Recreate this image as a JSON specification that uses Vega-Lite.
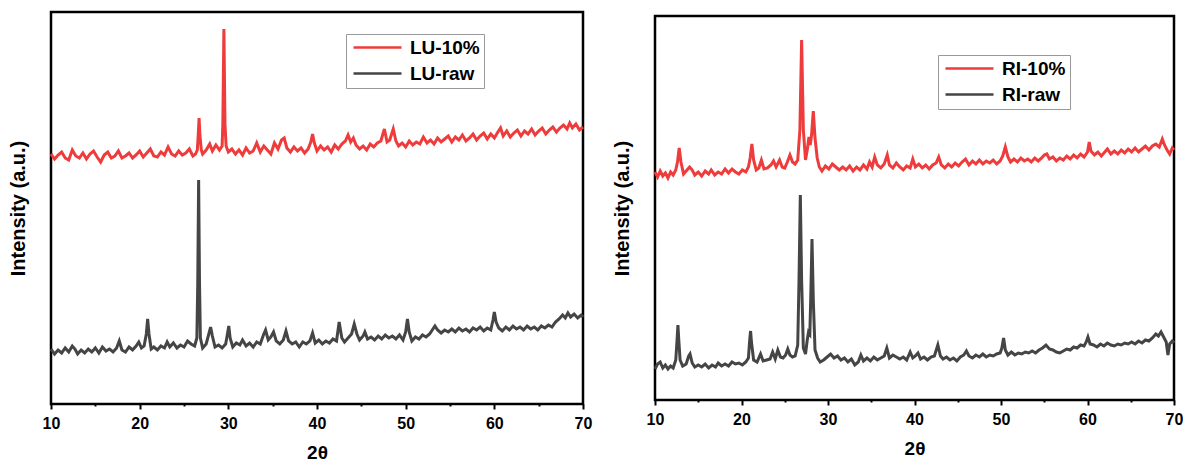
{
"$schema": "https://vega.github.io/schema/vega-lite/v6.json",
"padding": {"left": 6, "top": 10, "right": 0, "bottom": 0},
"background": "white",
"config": {
  "font": "Liberation Sans",
  "view": {"stroke": "black", "strokeWidth": 2.5},
  "axis": {"grid": false, "domain": false, "labelColor": "black", "titleColor": "black", "labelFont": "Liberation Sans", "titleFont": "Liberation Sans", "labelFontWeight": "bold", "titleFontWeight": "bold"},
  "legend": {"orient": "none", "title": null, "symbolType": "M-1,0H7", "symbolSize": 144, "symbolStrokeWidth": 2.5, "labelFontSize": 19, "labelFontWeight": "bold", "labelColor": "black", "labelFont": "Liberation Sans", "strokeColor": "#999999", "fillColor": "white", "padding": 4, "rowPadding": 6, "labelOffset": 41}
},
"datasets": {
"lu10": [{"x":10,"y":250},{"x":10.4,"y":245},{"x":10.8,"y":249},{"x":11.2,"y":252},{"x":11.6,"y":246},{"x":12,"y":244},{"x":12.4,"y":254},{"x":12.8,"y":248},{"x":13.2,"y":246},{"x":13.6,"y":251},{"x":14,"y":245},{"x":14.4,"y":250},{"x":14.8,"y":253},{"x":15.2,"y":247},{"x":15.6,"y":242},{"x":16,"y":249},{"x":16.4,"y":252},{"x":16.8,"y":246},{"x":17.2,"y":248},{"x":17.6,"y":253},{"x":18,"y":246},{"x":18.4,"y":248},{"x":18.8,"y":251},{"x":19.2,"y":246},{"x":19.6,"y":249},{"x":20,"y":253},{"x":20.4,"y":247},{"x":20.8,"y":251},{"x":21.2,"y":255},{"x":21.6,"y":248},{"x":22,"y":247},{"x":22.4,"y":252},{"x":22.8,"y":249},{"x":23.2,"y":257},{"x":23.6,"y":250},{"x":24,"y":248},{"x":24.4,"y":253},{"x":24.8,"y":249},{"x":25.2,"y":251},{"x":25.6,"y":255},{"x":26,"y":248},{"x":26.3,"y":250},{"x":26.5,"y":254},{"x":26.6,"y":268},{"x":26.7,"y":286},{"x":26.8,"y":268},{"x":26.95,"y":254},{"x":27.1,"y":250},{"x":27.5,"y":254},{"x":27.9,"y":260},{"x":28.2,"y":253},{"x":28.6,"y":259},{"x":29,"y":254},{"x":29.3,"y":258},{"x":29.38,"y":280},{"x":29.5,"y":375},{"x":29.62,"y":280},{"x":29.75,"y":258},{"x":30,"y":252},{"x":30.4,"y":255},{"x":30.8,"y":250},{"x":31.2,"y":254},{"x":31.6,"y":249},{"x":32,"y":256},{"x":32.4,"y":251},{"x":32.8,"y":253},{"x":33.2,"y":261},{"x":33.6,"y":252},{"x":34,"y":258},{"x":34.4,"y":254},{"x":34.8,"y":250},{"x":35.2,"y":261},{"x":35.6,"y":255},{"x":36,"y":264},{"x":36.3,"y":266},{"x":36.6,"y":256},{"x":37,"y":252},{"x":37.4,"y":257},{"x":37.8,"y":253},{"x":38.2,"y":256},{"x":38.6,"y":251},{"x":39,"y":255},{"x":39.3,"y":262},{"x":39.5,"y":270},{"x":39.7,"y":261},{"x":40,"y":253},{"x":40.4,"y":258},{"x":40.8,"y":254},{"x":41.2,"y":257},{"x":41.6,"y":252},{"x":42,"y":259},{"x":42.4,"y":255},{"x":42.8,"y":260},{"x":43.2,"y":263},{"x":43.5,"y":269},{"x":43.8,"y":262},{"x":44.1,"y":266},{"x":44.4,"y":259},{"x":44.8,"y":255},{"x":45.2,"y":258},{"x":45.6,"y":254},{"x":46,"y":260},{"x":46.4,"y":257},{"x":46.8,"y":261},{"x":47.2,"y":263},{"x":47.6,"y":275},{"x":47.9,"y":262},{"x":48.2,"y":264},{"x":48.6,"y":275},{"x":48.9,"y":263},{"x":49.2,"y":258},{"x":49.6,"y":261},{"x":50,"y":257},{"x":50.4,"y":263},{"x":50.8,"y":259},{"x":51.2,"y":262},{"x":51.6,"y":260},{"x":52,"y":267},{"x":52.4,"y":261},{"x":52.8,"y":264},{"x":53.2,"y":260},{"x":53.6,"y":266},{"x":54,"y":262},{"x":54.4,"y":265},{"x":54.8,"y":268},{"x":55.2,"y":262},{"x":55.6,"y":267},{"x":56,"y":264},{"x":56.4,"y":269},{"x":56.8,"y":263},{"x":57.2,"y":266},{"x":57.6,"y":270},{"x":58,"y":264},{"x":58.4,"y":268},{"x":58.8,"y":271},{"x":59.2,"y":265},{"x":59.6,"y":270},{"x":60,"y":266},{"x":60.4,"y":272},{"x":60.7,"y":276},{"x":61,"y":268},{"x":61.4,"y":273},{"x":61.8,"y":267},{"x":62.2,"y":271},{"x":62.6,"y":274},{"x":63,"y":268},{"x":63.4,"y":273},{"x":63.8,"y":270},{"x":64.2,"y":275},{"x":64.6,"y":269},{"x":65,"y":273},{"x":65.4,"y":276},{"x":65.8,"y":270},{"x":66.2,"y":274},{"x":66.6,"y":277},{"x":67,"y":272},{"x":67.4,"y":276},{"x":67.8,"y":279},{"x":68.2,"y":275},{"x":68.5,"y":281},{"x":68.8,"y":276},{"x":69.2,"y":280},{"x":69.6,"y":274},{"x":70,"y":277}],
"luraw": [{"x":10,"y":55},{"x":10.4,"y":50},{"x":10.8,"y":54},{"x":11.2,"y":51},{"x":11.6,"y":56},{"x":12,"y":52},{"x":12.4,"y":58},{"x":12.7,"y":55},{"x":13,"y":50},{"x":13.4,"y":54},{"x":13.8,"y":51},{"x":14.2,"y":55},{"x":14.6,"y":52},{"x":15,"y":56},{"x":15.4,"y":51},{"x":15.8,"y":57},{"x":16.2,"y":53},{"x":16.6,"y":55},{"x":17,"y":52},{"x":17.4,"y":56},{"x":17.7,"y":63},{"x":18,"y":54},{"x":18.4,"y":52},{"x":18.8,"y":57},{"x":19.2,"y":54},{"x":19.6,"y":58},{"x":19.9,"y":62},{"x":20.2,"y":56},{"x":20.5,"y":58},{"x":20.75,"y":70},{"x":20.9,"y":85},{"x":21.05,"y":70},{"x":21.3,"y":55},{"x":21.6,"y":57},{"x":22,"y":54},{"x":22.4,"y":58},{"x":22.8,"y":56},{"x":23.1,"y":62},{"x":23.4,"y":57},{"x":23.8,"y":61},{"x":24.2,"y":56},{"x":24.6,"y":59},{"x":25,"y":57},{"x":25.4,"y":63},{"x":25.8,"y":60},{"x":26.2,"y":58},{"x":26.45,"y":66},{"x":26.55,"y":120},{"x":26.65,"y":224},{"x":26.75,"y":120},{"x":26.85,"y":66},{"x":27.1,"y":56},{"x":27.5,"y":60},{"x":27.8,"y":70},{"x":28,"y":77},{"x":28.2,"y":68},{"x":28.5,"y":57},{"x":28.9,"y":59},{"x":29.3,"y":56},{"x":29.7,"y":60},{"x":29.9,"y":70},{"x":30.05,"y":78},{"x":30.2,"y":66},{"x":30.5,"y":57},{"x":30.9,"y":61},{"x":31.3,"y":59},{"x":31.6,"y":64},{"x":32,"y":58},{"x":32.4,"y":61},{"x":32.8,"y":57},{"x":33.2,"y":62},{"x":33.6,"y":60},{"x":34,"y":70},{"x":34.2,"y":74},{"x":34.5,"y":64},{"x":34.8,"y":67},{"x":35.1,"y":72},{"x":35.4,"y":63},{"x":35.8,"y":60},{"x":36.2,"y":64},{"x":36.5,"y":73},{"x":36.8,"y":63},{"x":37.2,"y":60},{"x":37.6,"y":62},{"x":38,"y":57},{"x":38.4,"y":62},{"x":38.8,"y":60},{"x":39.2,"y":63},{"x":39.5,"y":71},{"x":39.8,"y":61},{"x":40.2,"y":64},{"x":40.6,"y":60},{"x":41,"y":63},{"x":41.4,"y":61},{"x":41.8,"y":65},{"x":42.2,"y":63},{"x":42.5,"y":82},{"x":42.8,"y":66},{"x":43.1,"y":62},{"x":43.5,"y":66},{"x":43.9,"y":70},{"x":44.2,"y":80},{"x":44.5,"y":70},{"x":44.8,"y":64},{"x":45.2,"y":68},{"x":45.4,"y":72},{"x":45.7,"y":65},{"x":46.1,"y":67},{"x":46.5,"y":64},{"x":46.9,"y":68},{"x":47.3,"y":65},{"x":47.7,"y":69},{"x":48.1,"y":66},{"x":48.5,"y":68},{"x":48.9,"y":65},{"x":49.3,"y":69},{"x":49.7,"y":64},{"x":50,"y":72},{"x":50.2,"y":85},{"x":50.4,"y":72},{"x":50.7,"y":63},{"x":51.1,"y":67},{"x":51.5,"y":65},{"x":51.9,"y":69},{"x":52.3,"y":67},{"x":52.7,"y":70},{"x":53,"y":74},{"x":53.3,"y":78},{"x":53.6,"y":74},{"x":54,"y":71},{"x":54.4,"y":74},{"x":54.8,"y":72},{"x":55.2,"y":75},{"x":55.6,"y":72},{"x":56,"y":76},{"x":56.4,"y":73},{"x":56.8,"y":75},{"x":57.2,"y":72},{"x":57.6,"y":76},{"x":58,"y":74},{"x":58.4,"y":77},{"x":58.8,"y":73},{"x":59.2,"y":76},{"x":59.6,"y":74},{"x":59.85,"y":84},{"x":60,"y":92},{"x":60.2,"y":82},{"x":60.5,"y":76},{"x":60.9,"y":73},{"x":61.3,"y":77},{"x":61.7,"y":74},{"x":62.1,"y":78},{"x":62.5,"y":75},{"x":62.9,"y":77},{"x":63.3,"y":74},{"x":63.7,"y":78},{"x":64.1,"y":75},{"x":64.5,"y":77},{"x":64.9,"y":74},{"x":65.3,"y":78},{"x":65.7,"y":76},{"x":66.1,"y":79},{"x":66.5,"y":77},{"x":66.9,"y":82},{"x":67.3,"y":85},{"x":67.7,"y":89},{"x":68,"y":86},{"x":68.3,"y":91},{"x":68.6,"y":87},{"x":69,"y":90},{"x":69.4,"y":86},{"x":69.8,"y":89},{"x":70,"y":87}],
"ri10": [{"x":10,"y":228},{"x":10.3,"y":223},{"x":10.6,"y":229},{"x":10.9,"y":224},{"x":11.2,"y":227},{"x":11.5,"y":222},{"x":11.8,"y":228},{"x":12.1,"y":225},{"x":12.4,"y":230},{"x":12.6,"y":238},{"x":12.8,"y":252},{"x":13,"y":238},{"x":13.3,"y":226},{"x":13.6,"y":229},{"x":14,"y":233},{"x":14.3,"y":230},{"x":14.6,"y":225},{"x":15,"y":228},{"x":15.4,"y":224},{"x":15.8,"y":229},{"x":16.2,"y":226},{"x":16.5,"y":230},{"x":16.9,"y":225},{"x":17.3,"y":228},{"x":17.7,"y":226},{"x":18.1,"y":231},{"x":18.5,"y":227},{"x":18.9,"y":231},{"x":19.3,"y":228},{"x":19.7,"y":226},{"x":20.1,"y":230},{"x":20.5,"y":228},{"x":20.8,"y":233},{"x":21,"y":242},{"x":21.2,"y":256},{"x":21.4,"y":240},{"x":21.7,"y":230},{"x":22,"y":232},{"x":22.3,"y":240},{"x":22.6,"y":231},{"x":23,"y":232},{"x":23.4,"y":235},{"x":23.7,"y":239},{"x":24,"y":233},{"x":24.4,"y":240},{"x":24.7,"y":233},{"x":25,"y":232},{"x":25.3,"y":238},{"x":25.6,"y":245},{"x":25.9,"y":238},{"x":26.2,"y":236},{"x":26.5,"y":240},{"x":26.75,"y":270},{"x":26.95,"y":360},{"x":27.15,"y":270},{"x":27.4,"y":240},{"x":27.6,"y":250},{"x":27.8,"y":263},{"x":27.95,"y":255},{"x":28.1,"y":265},{"x":28.3,"y":289},{"x":28.5,"y":262},{"x":28.75,"y":242},{"x":29,"y":233},{"x":29.3,"y":229},{"x":29.7,"y":234},{"x":30.1,"y":231},{"x":30.5,"y":236},{"x":30.9,"y":233},{"x":31.3,"y":230},{"x":31.7,"y":233},{"x":32.1,"y":230},{"x":32.5,"y":234},{"x":32.9,"y":229},{"x":33.3,"y":233},{"x":33.7,"y":230},{"x":34.1,"y":235},{"x":34.5,"y":231},{"x":34.8,"y":238},{"x":35.1,"y":233},{"x":35.4,"y":243},{"x":35.7,"y":235},{"x":36.1,"y":232},{"x":36.5,"y":236},{"x":36.85,"y":245},{"x":37.1,"y":235},{"x":37.5,"y":232},{"x":37.9,"y":237},{"x":38.3,"y":233},{"x":38.7,"y":230},{"x":39.1,"y":234},{"x":39.5,"y":232},{"x":39.8,"y":241},{"x":40.1,"y":233},{"x":40.5,"y":236},{"x":40.9,"y":232},{"x":41.3,"y":235},{"x":41.7,"y":231},{"x":42.1,"y":235},{"x":42.5,"y":237},{"x":42.8,"y":243},{"x":43.1,"y":235},{"x":43.5,"y":232},{"x":43.9,"y":236},{"x":44.3,"y":233},{"x":44.7,"y":237},{"x":45.1,"y":234},{"x":45.5,"y":238},{"x":45.9,"y":241},{"x":46.3,"y":235},{"x":46.7,"y":239},{"x":47.1,"y":236},{"x":47.5,"y":240},{"x":47.9,"y":236},{"x":48.3,"y":239},{"x":48.7,"y":237},{"x":49.1,"y":240},{"x":49.5,"y":236},{"x":49.9,"y":239},{"x":50.2,"y":244},{"x":50.5,"y":253},{"x":50.8,"y":243},{"x":51.1,"y":238},{"x":51.5,"y":241},{"x":51.9,"y":238},{"x":52.3,"y":242},{"x":52.7,"y":239},{"x":53.1,"y":241},{"x":53.5,"y":238},{"x":53.9,"y":242},{"x":54.3,"y":239},{"x":54.7,"y":242},{"x":55,"y":245},{"x":55.3,"y":246},{"x":55.6,"y":241},{"x":56,"y":243},{"x":56.4,"y":239},{"x":56.8,"y":242},{"x":57.2,"y":240},{"x":57.6,"y":244},{"x":58,"y":241},{"x":58.4,"y":245},{"x":58.8,"y":242},{"x":59.2,"y":246},{"x":59.6,"y":243},{"x":60,"y":248},{"x":60.2,"y":258},{"x":60.4,"y":249},{"x":60.8,"y":245},{"x":61.2,"y":248},{"x":61.6,"y":244},{"x":62,"y":248},{"x":62.3,"y":251},{"x":62.7,"y":246},{"x":63.1,"y":249},{"x":63.5,"y":246},{"x":63.9,"y":250},{"x":64.3,"y":247},{"x":64.7,"y":251},{"x":65.1,"y":248},{"x":65.5,"y":252},{"x":65.9,"y":248},{"x":66.3,"y":251},{"x":66.7,"y":254},{"x":67.1,"y":250},{"x":67.5,"y":254},{"x":67.9,"y":256},{"x":68.3,"y":253},{"x":68.65,"y":261},{"x":68.9,"y":255},{"x":69.2,"y":250},{"x":69.5,"y":246},{"x":69.8,"y":252},{"x":70,"y":250}],
"riraw": [{"x":10,"y":31},{"x":10.3,"y":36},{"x":10.6,"y":38},{"x":10.9,"y":32},{"x":11.2,"y":35},{"x":11.5,"y":31},{"x":11.8,"y":34},{"x":12.1,"y":32},{"x":12.4,"y":40},{"x":12.55,"y":60},{"x":12.65,"y":75},{"x":12.75,"y":60},{"x":12.9,"y":40},{"x":13.2,"y":34},{"x":13.6,"y":36},{"x":13.9,"y":44},{"x":14.05,"y":46},{"x":14.3,"y":37},{"x":14.6,"y":33},{"x":15,"y":35},{"x":15.4,"y":33},{"x":15.8,"y":36},{"x":16.2,"y":32},{"x":16.6,"y":35},{"x":17,"y":33},{"x":17.3,"y":37},{"x":17.7,"y":34},{"x":18.1,"y":36},{"x":18.5,"y":34},{"x":18.9,"y":38},{"x":19.3,"y":36},{"x":19.7,"y":37},{"x":20.1,"y":35},{"x":20.5,"y":38},{"x":20.8,"y":42},{"x":20.95,"y":60},{"x":21.05,"y":69},{"x":21.15,"y":58},{"x":21.4,"y":40},{"x":21.8,"y":38},{"x":22.2,"y":46},{"x":22.5,"y":39},{"x":22.9,"y":40},{"x":23.3,"y":41},{"x":23.6,"y":48},{"x":23.9,"y":41},{"x":24.2,"y":50},{"x":24.5,"y":43},{"x":24.8,"y":42},{"x":25.1,"y":45},{"x":25.35,"y":51},{"x":25.6,"y":45},{"x":25.9,"y":43},{"x":26.2,"y":44},{"x":26.5,"y":55},{"x":26.65,"y":120},{"x":26.8,"y":205},{"x":26.95,"y":120},{"x":27.15,"y":52},{"x":27.4,"y":46},{"x":27.6,"y":60},{"x":27.75,"y":68},{"x":27.9,"y":66},{"x":28,"y":100},{"x":28.15,"y":161},{"x":28.3,"y":100},{"x":28.5,"y":50},{"x":28.8,"y":42},{"x":29.1,"y":38},{"x":29.5,"y":40},{"x":29.9,"y":43},{"x":30.3,"y":46},{"x":30.7,"y":42},{"x":31.1,"y":44},{"x":31.5,"y":40},{"x":31.9,"y":42},{"x":32.3,"y":38},{"x":32.7,"y":41},{"x":33.1,"y":35},{"x":33.5,"y":38},{"x":33.8,"y":45},{"x":34.1,"y":39},{"x":34.5,"y":42},{"x":34.9,"y":39},{"x":35.3,"y":43},{"x":35.7,"y":40},{"x":36.1,"y":42},{"x":36.5,"y":44},{"x":36.8,"y":52},{"x":37.1,"y":42},{"x":37.5,"y":45},{"x":37.9,"y":43},{"x":38.3,"y":41},{"x":38.7,"y":43},{"x":39.1,"y":40},{"x":39.5,"y":48},{"x":39.8,"y":42},{"x":40.1,"y":44},{"x":40.4,"y":47},{"x":40.7,"y":41},{"x":41.1,"y":43},{"x":41.5,"y":40},{"x":41.9,"y":43},{"x":42.3,"y":44},{"x":42.7,"y":55},{"x":43,"y":44},{"x":43.3,"y":41},{"x":43.7,"y":43},{"x":44.1,"y":40},{"x":44.5,"y":42},{"x":44.9,"y":39},{"x":45.3,"y":43},{"x":45.7,"y":45},{"x":46,"y":49},{"x":46.3,"y":44},{"x":46.7,"y":42},{"x":47.1,"y":45},{"x":47.5,"y":43},{"x":47.9,"y":46},{"x":48.3,"y":43},{"x":48.7,"y":45},{"x":49.1,"y":44},{"x":49.5,"y":46},{"x":49.9,"y":47},{"x":50.1,"y":52},{"x":50.3,"y":62},{"x":50.5,"y":50},{"x":50.8,"y":45},{"x":51.2,"y":48},{"x":51.6,"y":45},{"x":52,"y":47},{"x":52.4,"y":46},{"x":52.8,"y":48},{"x":53.2,"y":47},{"x":53.6,"y":49},{"x":54,"y":47},{"x":54.4,"y":50},{"x":54.8,"y":52},{"x":55.2,"y":55},{"x":55.6,"y":51},{"x":56,"y":50},{"x":56.4,"y":48},{"x":56.8,"y":47},{"x":57.2,"y":49},{"x":57.6,"y":51},{"x":58,"y":50},{"x":58.4,"y":53},{"x":58.8,"y":52},{"x":59.2,"y":55},{"x":59.6,"y":54},{"x":59.85,"y":58},{"x":60.05,"y":63},{"x":60.3,"y":56},{"x":60.7,"y":55},{"x":61.1,"y":53},{"x":61.5,"y":56},{"x":61.9,"y":54},{"x":62.3,"y":57},{"x":62.7,"y":55},{"x":63.1,"y":54},{"x":63.5,"y":56},{"x":63.9,"y":55},{"x":64.3,"y":57},{"x":64.7,"y":56},{"x":65.1,"y":58},{"x":65.5,"y":56},{"x":65.9,"y":59},{"x":66.3,"y":57},{"x":66.7,"y":60},{"x":67.1,"y":59},{"x":67.5,"y":62},{"x":67.9,"y":66},{"x":68.2,"y":64},{"x":68.5,"y":68},{"x":68.8,"y":63},{"x":69.1,"y":58},{"x":69.3,"y":45},{"x":69.5,"y":56},{"x":69.8,"y":59},{"x":70,"y":57}]
},
"hconcat": [
 {
  "width": 532, "height": 392,
  "encoding": {
   "x": {"field": "x", "type": "quantitative", "title": "2θ", "scale": {"domain": [10, 70], "nice": false},
     "axis": {"values": [10,15,20,25,30,35,40,45,50,55,60,65,70], "labelExpr": "datum.value % 10 === 0 ? datum.label : ''", "tickSize": {"condition": {"test": "datum.value % 10 === 0", "value": 5}, "value": 2}, "tickWidth": 2, "tickColor": "black", "labelFontSize": 16, "labelPadding": 6, "titleFontSize": 19, "titlePadding": 12, "labelFlush": false}},
   "y": {"field": "y", "type": "quantitative", "title": "Intensity (a.u.)", "scale": {"domain": [0, 392], "nice": false},
     "axis": {"labels": false, "ticks": false, "titleFontSize": 20, "titlePadding": 23}}
  },
  "layer": [
   {"data": {"name": "lu10"}, "mark": {"type": "line", "strokeWidth": 3},
    "encoding": {"color": {"datum": "LU-10%", "type": "nominal", "scale": {"domain": ["LU-10%", "LU-raw"], "range": ["#ee3b3b", "#454545"]}, "legend": {"legendX": 295, "legendY": 22}}}},
   {"data": {"name": "luraw"}, "mark": {"type": "line", "strokeWidth": 3},
    "encoding": {"color": {"datum": "LU-raw", "type": "nominal"}}}
  ]
 },
 {
  "width": 519, "height": 384,
  "encoding": {
   "x": {"field": "x", "type": "quantitative", "title": "2θ", "scale": {"domain": [10, 70], "nice": false},
     "axis": {"values": [10,15,20,25,30,35,40,45,50,55,60,65,70], "labelExpr": "datum.value % 10 === 0 ? datum.label : ''", "tickSize": {"condition": {"test": "datum.value % 10 === 0", "value": 5}, "value": 2}, "tickWidth": 2, "tickColor": "black", "labelFontSize": 16, "labelPadding": 6, "titleFontSize": 19, "titlePadding": 12, "labelFlush": false}},
   "y": {"field": "y", "type": "quantitative", "title": "Intensity (a.u.)", "scale": {"domain": [0, 384], "nice": false},
     "axis": {"labels": false, "ticks": false, "titleFontSize": 20, "titlePadding": 23}}
  },
  "layer": [
   {"data": {"name": "ri10"}, "mark": {"type": "line", "strokeWidth": 3},
    "encoding": {"color": {"datum": "RI-10%", "type": "nominal", "scale": {"domain": ["RI-10%", "RI-raw"], "range": ["#ee3b3b", "#454545"]}, "legend": {"legendX": 283, "legendY": 39}}}},
   {"data": {"name": "riraw"}, "mark": {"type": "line", "strokeWidth": 3},
    "encoding": {"color": {"datum": "RI-raw", "type": "nominal"}}}
  ]
 }
],
"spacing": 72,
"bounds": "flush",
"center": true,
"resolve": {"scale": {"color": "independent", "x": "independent", "y": "independent"}, "legend": {"color": "independent"}}
}
